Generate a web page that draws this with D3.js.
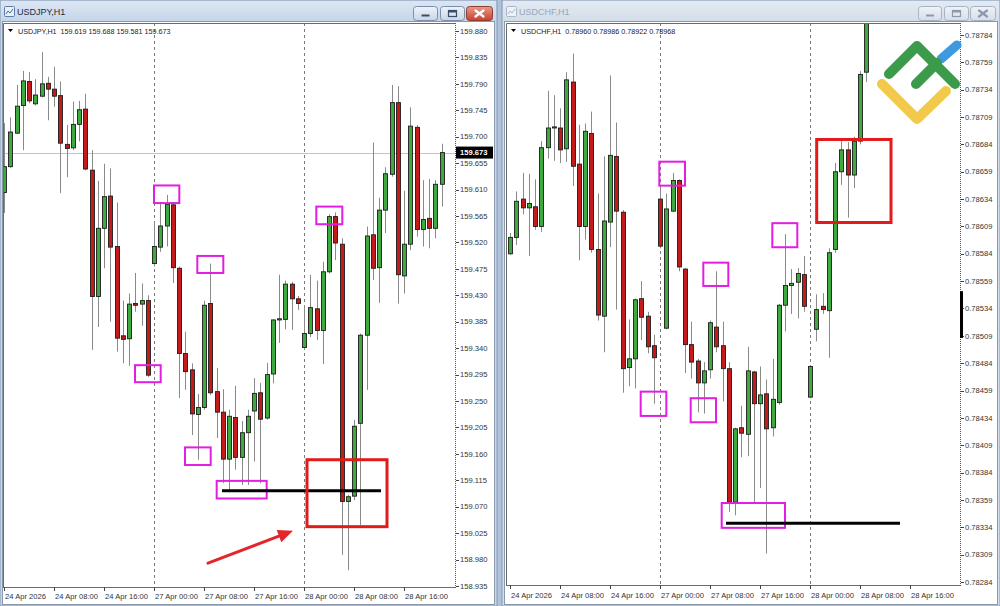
<!DOCTYPE html>
<html><head><meta charset="utf-8">
<script src="https://cdnjs.cloudflare.com/ajax/libs/d3/7.8.5/d3.min.js"></script>
<style>html,body{margin:0;padding:0;background:#fff;overflow:hidden}</style>
</head><body>
<script>
// ---------- DATA ----------
const timeLabels = ["24 Apr 2026","24 Apr 08:00","24 Apr 16:00","27 Apr 00:00","27 Apr 08:00","27 Apr 16:00","28 Apr 00:00","28 Apr 08:00","28 Apr 16:00"];
const timeLabelIdx = [0,8,16,24,32,40,48,56,64];
const separatorIdx = [24,48];

const jpyTicks = [158.935,158.980,159.025,159.070,159.115,159.160,159.205,159.250,159.295,159.340,159.385,159.430,159.475,159.520,159.565,159.610,159.655,159.700,159.745,159.790,159.835,159.880];
const chfTicks = [0.78284,0.78309,0.78334,0.78359,0.78384,0.78409,0.78434,0.78459,0.78484,0.78509,0.78534,0.78559,0.78584,0.78609,0.78634,0.78659,0.78684,0.78709,0.78734,0.78759,0.78784];

// [open, high, low, close]
const usdjpyOHLC = [
[159.605,159.723,159.570,159.649],[159.649,159.733,159.647,159.708],[159.706,159.788,159.705,159.752],[159.753,159.812,159.677,159.795],
[159.794,159.810,159.757,159.761],[159.756,159.798,159.753,159.771],[159.769,159.844,159.767,159.790],[159.791,159.802,159.728,159.781],
[159.781,159.819,159.751,159.769],[159.770,159.794,159.604,159.689],[159.687,159.720,159.631,159.680],[159.681,159.760,159.677,159.721],
[159.721,159.761,159.692,159.746],[159.747,159.773,159.643,159.645],[159.643,159.677,159.337,159.428],[159.428,159.625,159.376,159.544],
[159.544,159.654,159.476,159.598],[159.599,159.646,159.385,159.512],[159.513,159.588,159.334,159.357],[159.361,159.421,159.314,159.355],
[159.356,159.433,159.310,159.415],[159.416,159.468,159.402,159.413],[159.415,159.450,159.378,159.421],[159.421,159.430,159.291,159.294],
[159.484,159.555,159.479,159.513],[159.512,159.589,159.504,159.548],[159.548,159.601,159.513,159.585],[159.584,159.587,159.451,159.477],
[159.476,159.479,159.255,159.331],[159.331,159.368,159.269,159.300],[159.303,159.314,159.192,159.228],[159.227,159.262,159.150,159.239],
[159.239,159.421,159.235,159.413],[159.416,159.484,159.260,159.264],[159.266,159.306,159.187,159.231],[159.231,159.270,159.110,159.151],
[159.151,159.235,159.096,159.224],[159.222,159.276,159.133,159.154],[159.154,159.216,159.107,159.196],[159.196,159.235,159.107,159.224],
[159.233,159.289,159.147,159.263],[159.264,159.281,159.110,159.219],[159.221,159.315,159.218,159.295],[159.296,159.389,159.280,159.388],
[159.388,159.465,159.349,159.390],[159.389,159.455,159.372,159.449],[159.449,159.453,159.371,159.424],[159.424,159.429,159.405,159.416],
[159.341,159.413,159.337,159.365],[159.365,159.465,159.359,159.409],[159.407,159.455,159.354,159.370],[159.370,159.487,159.313,159.470],
[159.470,159.568,159.467,159.564],[159.564,159.571,159.490,159.519],[159.517,159.527,158.988,159.079],[159.079,159.090,158.962,159.087],
[159.088,159.218,159.081,159.207],[159.212,159.365,159.039,159.362],[159.362,159.547,159.269,159.531],[159.533,159.690,159.456,159.476],
[159.477,159.596,159.417,159.575],[159.575,159.648,159.536,159.637],[159.636,159.788,159.632,159.758],[159.758,159.786,159.416,159.465],
[159.463,159.608,159.433,159.517],[159.517,159.750,159.507,159.718],[159.716,159.720,159.530,159.542],[159.542,159.626,159.513,159.559],
[159.561,159.628,159.510,159.544],[159.544,159.626,159.527,159.619],[159.619,159.688,159.581,159.673]
];

const usdchfOHLC = [
[0.78584,0.78603,0.78583,0.78599],[0.78599,0.78641,0.78592,0.78632],[0.78634,0.78658,0.78620,0.78626],[0.78626,0.78657,0.78582,0.78630],
[0.78627,0.78652,0.78606,0.78609],[0.78609,0.78687,0.78604,0.78681],[0.78681,0.78733,0.78671,0.78699],[0.78699,0.78729,0.78669,0.78700],
[0.78699,0.78717,0.78667,0.78679],[0.78680,0.78750,0.78668,0.78743],[0.78741,0.78767,0.78646,0.78664],[0.78666,0.78702,0.78578,0.78609],
[0.78609,0.78703,0.78597,0.78696],[0.78694,0.78714,0.78585,0.78588],[0.78588,0.78639,0.78523,0.78528],[0.78527,0.78673,0.78494,0.78614],
[0.78613,0.78747,0.78590,0.78674],[0.78673,0.78704,0.78533,0.78623],[0.78622,0.78624,0.78457,0.78479],[0.78480,0.78524,0.78463,0.78488],
[0.78488,0.78543,0.78461,0.78542],[0.78543,0.78559,0.78505,0.78526],[0.78527,0.78531,0.78493,0.78499],[0.78500,0.78510,0.78447,0.78489],
[0.78634,0.78645,0.78589,0.78591],[0.78516,0.78639,0.78515,0.78625],[0.78623,0.78658,0.78622,0.78651],[0.78651,0.78652,0.78568,0.78572],
[0.78570,0.78571,0.78475,0.78501],[0.78501,0.78522,0.78470,0.78485],[0.78486,0.78488,0.78439,0.78466],[0.78466,0.78485,0.78438,0.78477],
[0.78478,0.78523,0.78470,0.78521],[0.78517,0.78568,0.78494,0.78499],[0.78500,0.78522,0.78449,0.78479],[0.78479,0.78485,0.78348,0.78357],
[0.78357,0.78425,0.78345,0.78424],[0.78425,0.78445,0.78398,0.78420],[0.78419,0.78499,0.78399,0.78477],[0.78476,0.78477,0.78357,0.78447],
[0.78447,0.78481,0.78370,0.78455],[0.78456,0.78469,0.78310,0.78424],[0.78425,0.78488,0.78417,0.78451],[0.78448,0.78538,0.78446,0.78537],
[0.78537,0.78602,0.78513,0.78555],[0.78555,0.78570,0.78529,0.78557],[0.78558,0.78571,0.78525,0.78566],[0.78565,0.78582,0.78531,0.78536],
[0.78453,0.78482,0.78452,0.78481],[0.78515,0.78547,0.78504,0.78533],[0.78536,0.78548,0.78529,0.78533],[0.78532,0.78589,0.78489,0.78585],
[0.78588,0.78667,0.78585,0.78659],[0.78659,0.78687,0.78647,0.78679],[0.78679,0.78686,0.78617,0.78656],[0.78656,0.78691,0.78644,0.78687],
[0.78687,0.78751,0.78684,0.78748],[0.78750,0.78840,0.78741,0.78830]
];

// annotations in data units: [fromIndex, toIndex, topPrice, bottomPrice]
const jpyMagentaBoxes = [[24.0,28.05,159.617,159.587],[30.93,35.09,159.497,159.468],[20.96,25.07,159.311,159.282],[28.96,33.07,159.171,159.141],[34.03,42.03,159.114,159.084],[49.97,54.13,159.581,159.551]];
const jpyLevel = [34.88,60.32,159.097];
const jpyRedBox = [48.48,61.28,159.150,159.036];
const jpyArrow = [[32.64,158.974],[46.24,159.029]];
const chfMagentaBoxes = [[23.89,28.0,0.786682,0.786463],[30.93,34.93,0.785759,0.785546],[20.91,25.01,0.78458,0.784358],[28.91,32.96,0.78452,0.7843],[33.87,44.0,0.783562,0.783335],[41.97,45.97,0.78612,0.7859]];
const chfLevel = [34.56,62.4,0.783376];
const chfRedBox = [49.07,60.96,0.786885,0.786126];
const chfAxisMarker = [0.785498,0.785071];

// ---------- DRAW ----------
const W = 1000, H = 606;
const FONT = "'Liberation Sans', Arial, sans-serif";
const svg = d3.select("body").append("svg").attr("width", W).attr("height", H).style("display","block");
const defs = svg.append("defs");
function grad(id, c1, c2){
  const g = defs.append("linearGradient").attr("id", id).attr("x1",0).attr("y1",0).attr("x2",0).attr("y2",1);
  g.append("stop").attr("offset","0%").attr("stop-color",c1);
  g.append("stop").attr("offset","100%").attr("stop-color",c2);
}
grad("titleA","#dbe6f3","#c4d5e9");
grad("titleI","#e3eaf3","#d2dde9");
grad("btnA","#eef3f9","#c8d6e8");
grad("btnI","#f0f3f7","#d6dee8");
grad("btnClose","#e89a8c","#c9412f");

svg.append("rect").attr("width",W).attr("height",H).attr("fill","#aec2da");

const charts = [
  {id:"jpy", win:[0,497], inner:[3,494], plot:{l:3,r:455,t:23,b:587}, x0:4, active:true,
   title:"USDJPY,H1", header:"USDJPY,H1  159.619 159.688 159.581 159.673",
   data:usdjpyOHLC, ticks:jpyTicks, yRange:[586,31], dec:3,
   boxes:jpyMagentaBoxes, level:jpyLevel, redBox:jpyRedBox, arrow:jpyArrow, bid:159.673, timeY:599},
  {id:"chf", win:[502,1000], inner:[505,997], plot:{l:506,r:960,t:23,b:585}, x0:510, active:false,
   title:"USDCHF,H1", header:"USDCHF,H1  0.78960 0.78986 0.78922 0.78968",
   data:usdchfOHLC, ticks:chfTicks, yRange:[582,35], dec:5,
   boxes:chfMagentaBoxes, level:chfLevel, redBox:chfRedBox, arrow:null, bid:null, timeY:598, marker:chfAxisMarker}
];

function button(g, x, w, kind, active){
  const y = 6, h = 14;
  g.append("rect").attr("x",x+0.5).attr("y",y+0.5).attr("width",w).attr("height",h).attr("rx",3)
    .attr("fill", kind==="close" && active ? "url(#btnClose)" : (active?"url(#btnA)":"url(#btnI)"))
    .attr("stroke", active ? (kind==="close"?"#8e3b30":"#7a8fab") : "#a5b3c5");
  const cx = x + w/2 + 0.5, cy = y + h/2 + 0.5;
  const gc = active ? "#3a4c66" : "#8d9aab";
  if(kind==="min"){
    g.append("rect").attr("x",cx-4).attr("y",cy+1).attr("width",8).attr("height",2).attr("fill",gc);
  } else if(kind==="max"){
    g.append("rect").attr("x",cx-4).attr("y",cy-3).attr("width",8).attr("height",6).attr("fill","none").attr("stroke",gc).attr("stroke-width",1.2);
    g.append("rect").attr("x",cx-4).attr("y",cy-3).attr("width",8).attr("height",2).attr("fill",gc);
  } else {
    const xc = active ? "#ffffff" : "#8d9aab";
    g.append("path").attr("d",`M${cx-4},${cy-3}L${cx+4},${cy+3}M${cx+4},${cy-3}L${cx-4},${cy+3}`)
      .attr("stroke",xc).attr("stroke-width",2.2).attr("stroke-linecap","round");
  }
}

charts.forEach(c => {
  const g = svg.append("g");
  const [wx0, wx1] = c.win;
  // window frame
  g.append("rect").attr("x",wx0).attr("y",0).attr("width",wx1-wx0).attr("height",H)
    .attr("fill", c.active ? "#c8d8eb" : "#d5dfeb").attr("stroke","#8598b2");
  g.append("rect").attr("x",wx0+1).attr("y",1).attr("width",wx1-wx0-2).attr("height",21)
    .attr("fill", c.active ? "url(#titleA)" : "url(#titleI)");
  // icon
  const ic = g.append("g").attr("transform",`translate(${wx0+4},6)`);
  ic.append("rect").attr("x",0.5).attr("y",0.5).attr("width",10).attr("height",10).attr("rx",1)
    .attr("fill", c.active?"#e8eef6":"#eef2f7").attr("stroke", c.active?"#5f7ea6":"#a9b7c9");
  ic.append("path").attr("d","M2,8L4,5L6,7L9,3").attr("fill","none").attr("stroke", c.active?"#3d6ea8":"#a9b7c9");
  g.append("text").attr("x",wx0+17).attr("y",15).text(c.title)
    .attr("font-family",FONT).attr("font-size",9).attr("fill", c.active?"#1f2e44":"#97a6ba");
  // buttons
  if (c.active){ button(g,413,24,"min",true); button(g,440,24,"max",true); button(g,466,26,"close",true); }
  else { button(g,918,23,"min",false); button(g,944,24,"max",false); button(g,970,25,"close",false); }

  // inner white chart area
  g.append("rect").attr("x",c.inner[0]-0.5).attr("y",21.5).attr("width",c.inner[1]-c.inner[0]+1).attr("height",583)
    .attr("fill","#ffffff").attr("stroke","#8a98ab");

  const p = c.plot;
  const x = d3.scaleLinear().domain([0,64]).range([c.x0, c.x0 + 400]);
  const y = d3.scaleLinear().domain([c.ticks[0], c.ticks[c.ticks.length-1]]).range(c.yRange);
  const fmt = d3.format(`.${c.dec}f`);

  defs.append("clipPath").attr("id","clip-"+c.id).append("rect")
    .attr("x",p.l+1).attr("y",p.t+1).attr("width",p.r-p.l-1).attr("height",p.b-p.t-1);

  // plot frame
  g.append("path").attr("d",`M${p.l+0.5},${p.b}V${p.t+0.5}H${p.r}`).attr("fill","none").attr("stroke","#6b6b6b");
  g.append("line").attr("x1",p.l).attr("x2",p.r+0.5).attr("y1",p.b+0.5).attr("y2",p.b+0.5).attr("stroke","#6b6b6b");
  g.append("line").attr("x1",p.r+0.5).attr("x2",p.r+0.5).attr("y1",p.t).attr("y2",p.b+1)
    .attr("stroke","#555").attr("stroke-dasharray","1,1");

  // price axis
  const ya = g.append("g");
  ya.selectAll("line").data(c.ticks).join("line")
    .attr("x1",p.r+1).attr("x2",p.r+4).attr("y1",d=>Math.round(y(d))+0.5).attr("y2",d=>Math.round(y(d))+0.5)
    .attr("stroke","#444");
  ya.selectAll("text").data(c.ticks).join("text")
    .attr("x",p.r+5).attr("y",d=>y(d)).attr("dy","0.35em").text(d=>fmt(d))
    .attr("font-family",FONT).attr("font-size",7.6).attr("fill","#333");

  // time axis
  const xa = g.append("g");
  xa.selectAll("line").data(timeLabelIdx).join("line")
    .attr("x1",d=>Math.round(x(d))+0.5).attr("x2",d=>Math.round(x(d))+0.5).attr("y1",p.b).attr("y2",p.b+4)
    .attr("stroke","#444");
  xa.selectAll("text").data(timeLabelIdx).join("text")
    .attr("x",d=>x(d)+1).attr("y",c.timeY).text((d,i)=>timeLabels[i])
    .attr("font-family",FONT).attr("font-size",7.6).attr("fill","#333");

  const pg = g.append("g").attr("clip-path",`url(#clip-${c.id})`);
  // separators
  pg.selectAll("line.sep").data(separatorIdx).join("line").attr("class","sep")
    .attr("x1",d=>Math.round(x(d))+0.5).attr("x2",d=>Math.round(x(d))+0.5).attr("y1",p.t).attr("y2",p.b)
    .attr("stroke","#7a7a7a").attr("stroke-dasharray","3,3");
  // bid line
  if (c.bid !== null){
    pg.append("line").attr("x1",p.l).attr("x2",p.r).attr("y1",Math.round(y(c.bid))+0.5).attr("y2",Math.round(y(c.bid))+0.5)
      .attr("stroke","#c4c4c4");
  }
  // candles
  pg.selectAll("line.wick").data(c.data).join("line").attr("class","wick")
    .attr("x1",(d,i)=>Math.round(x(i))+0.5).attr("x2",(d,i)=>Math.round(x(i))+0.5)
    .attr("y1",d=>y(d[1])).attr("y2",d=>y(d[2])).attr("stroke","#8a8a8a").attr("stroke-width",1);
  pg.selectAll("rect.body").data(c.data).join("rect").attr("class","body")
    .attr("x",(d,i)=>Math.round(x(i))-1.5).attr("width",4)
    .attr("y",d=>Math.min(y(d[0]),y(d[3])))
    .attr("height",d=>Math.max(1,Math.abs(y(d[0])-y(d[3]))))
    .attr("fill",d=>d[3]>=d[0]?"#3fa93f":"#c51a1a")
    .attr("stroke","#1d1d1d").attr("stroke-width",0.9);

  // annotations
  const ag = g.append("g");
  ag.selectAll("rect.mbox").data(c.boxes).join("rect").attr("class","mbox")
    .attr("x",d=>x(d[0])).attr("width",d=>x(d[1])-x(d[0]))
    .attr("y",d=>y(d[2])).attr("height",d=>y(d[3])-y(d[2]))
    .attr("fill","none").attr("stroke","#e21ee2").attr("stroke-width",2);
  ag.append("line").attr("x1",x(c.level[0])).attr("x2",x(c.level[1]))
    .attr("y1",y(c.level[2])).attr("y2",y(c.level[2])).attr("stroke","#000").attr("stroke-width",3);
  ag.append("rect").attr("x",x(c.redBox[0])).attr("width",x(c.redBox[1])-x(c.redBox[0]))
    .attr("y",y(c.redBox[2])).attr("height",y(c.redBox[3])-y(c.redBox[2]))
    .attr("fill","none").attr("stroke","#e31a1a").attr("stroke-width",3);
  if (c.arrow){
    const a0 = [x(c.arrow[0][0]), y(c.arrow[0][1])], a1 = [x(c.arrow[1][0]), y(c.arrow[1][1])];
    const dx = a1[0]-a0[0], dy = a1[1]-a0[1], L = Math.hypot(dx,dy);
    const ux = dx/L, uy = dy/L, nx = -uy, ny = ux;
    const hl = 15, hw = 6.5;
    const bx = a1[0]-ux*hl, by = a1[1]-uy*hl;
    ag.append("line").attr("x1",a0[0]).attr("y1",a0[1]).attr("x2",bx+ux*2).attr("y2",by+uy*2)
      .attr("stroke","#e2262b").attr("stroke-width",3).attr("stroke-linecap","round");
    ag.append("path").attr("d",`M${a1[0]},${a1[1]}L${bx+nx*hw},${by+ny*hw}L${bx-nx*hw},${by-ny*hw}Z`).attr("fill","#e2262b");
  }
  if (c.marker){
    ag.append("rect").attr("x",p.r).attr("width",3).attr("y",y(c.marker[0])).attr("height",y(c.marker[1])-y(c.marker[0])).attr("fill","#000");
  }
  if (c.bid !== null){
    const by0 = y(c.bid);
    ag.append("rect").attr("x",p.r+1).attr("y",by0-6).attr("width",37).attr("height",12).attr("fill","#000");
    ag.append("text").attr("x",p.r+5).attr("y",by0).attr("dy","0.35em").text(fmt(c.bid))
      .attr("font-family",FONT).attr("font-size",7.6).attr("font-weight","bold").attr("fill","#fff");
  }

  // header
  const hx = p.l + 3;
  g.append("path").attr("d",`M${hx+2},${29}h5l-2.5,3z`).attr("fill","#000");
  g.append("text").attr("x",hx+12).attr("y",34).text(c.header).style("white-space","pre")
    .attr("font-family",FONT).attr("font-size",7.2).attr("fill","#222");
});

// LiteFinance-style logo (decoration)
const logo = svg.append("g").attr("fill","none").attr("stroke-linecap","round").attr("stroke-linejoin","round");
logo.append("path").attr("d","M941,59L957,45").attr("stroke","#3d9ae0").attr("stroke-width",9);
logo.append("path").attr("d","M882,84L917,119L946,91").attr("stroke","#f2c94a").attr("stroke-width",10);
logo.append("path").attr("d","M889,74L917,46L955,84").attr("stroke","#3c9a4b").attr("stroke-width",10);
logo.append("path").attr("d","M916,84L937,63").attr("stroke","#3c9a4b").attr("stroke-width",10);
</script></body></html>
